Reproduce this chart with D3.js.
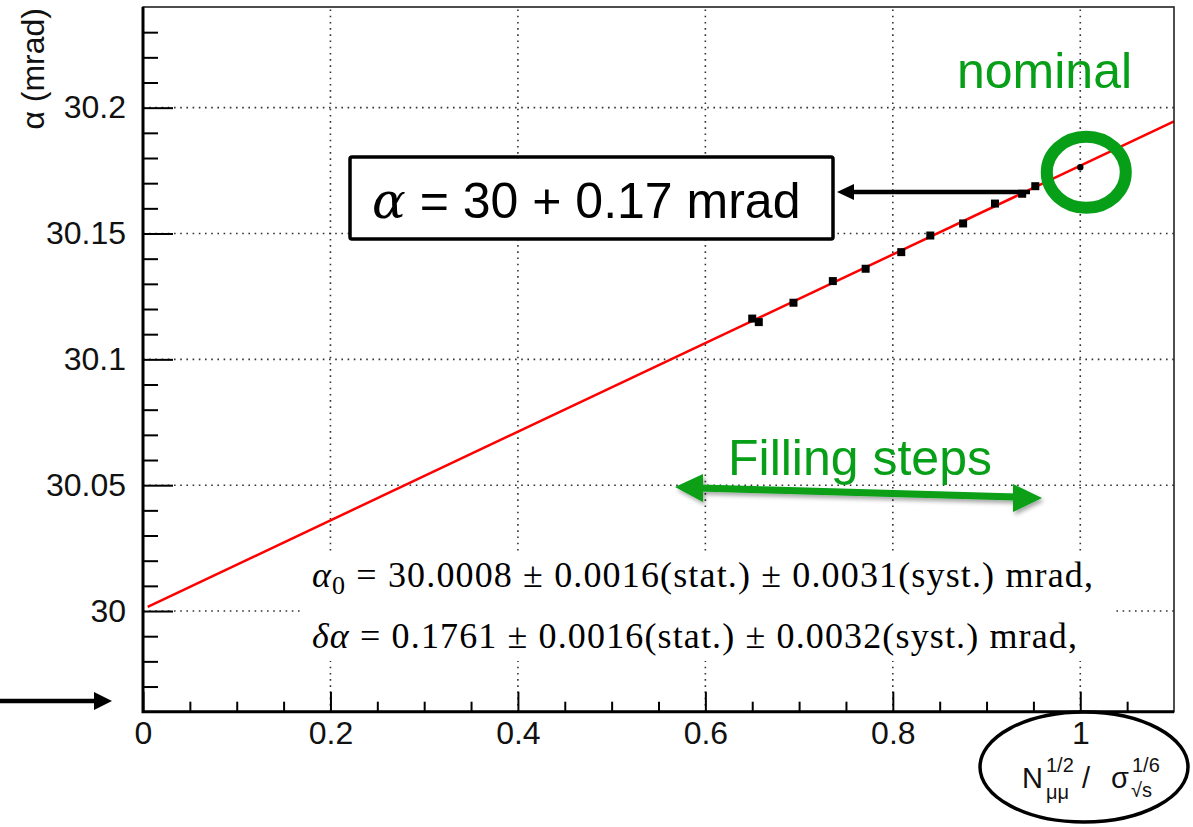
<!DOCTYPE html>
<html>
<head>
<meta charset="utf-8">
<script src="https://cdn.jsdelivr.net/npm/d3@7"></script>
<style>
  body { margin: 0; background: #fff; }
  svg { display: block; font-family: "Liberation Sans", Arial, sans-serif; }
</style>
</head>
<body>
<div id="chart"></div>
<script>
// Filling steps (x = N^1/2 / sigma^1/6, y = alpha in mrad)
const stepX = [0.650, 0.657, 0.694, 0.736, 0.771, 0.809, 0.840, 0.875, 0.909, 0.938, 0.952];
const stepY = [30.1162, 30.1148, 30.1225, 30.1311, 30.1360, 30.1426, 30.1492, 30.1540, 30.1619, 30.1658, 30.1688];
const stepErr = [0.0012, 0.0012, 0.0012, 0.0012, 0.0012, 0.0012, 0.0012, 0.0012, 0.0012, 0.0012, 0.0012];
const nominal = [1.0, 30.1763];

// Linear fit alpha = alpha0 + dAlpha * x
const alpha0 = 30.0008;
const dAlpha = 0.1761;
const fitRange = [0.005, 1.1];

// Axis ticks
const xMajor = [0, 0.2, 0.4, 0.6, 0.8, 1];
const xMinor = [0.05, 0.1, 0.15, 0.25, 0.3, 0.35, 0.45, 0.5, 0.55, 0.65, 0.7, 0.75, 0.85, 0.9, 0.95, 1.05];
const yMajor = [30, 30.05, 30.1, 30.15, 30.2];
const yMinor = [29.97, 29.98, 29.99, 30.01, 30.02, 30.03, 30.04, 30.06, 30.07, 30.08, 30.09,
                30.11, 30.12, 30.13, 30.14, 30.16, 30.17, 30.18, 30.19, 30.21, 30.22, 30.23];

const fitLines = [
    {sym: "α", sub: "0", rest: " = 30.0008 ± 0.0016(stat.) ± 0.0031(syst.) mrad,"},
    {sym: "δα", sub: "", rest: " = 0.1761 ± 0.0016(stat.) ± 0.0032(syst.) mrad,"}
];

const width = 1193, height = 827;
const green = "#079f17";

const svg = d3.select("#chart").append("svg")
    .attr("width", width)
    .attr("height", height);

const x = d3.scaleLinear().domain([0, 1.1]).range([143, 1174]);
const y = d3.scaleLinear().domain([29.96, 30.24]).range([711.7, 7]);

// drop shadow for the green arrow
const defs = svg.append("defs");
defs.append("filter").attr("id", "shadow")
    .attr("x", "-10%").attr("y", "-50%").attr("width", "120%").attr("height", "200%")
    .append("feDropShadow")
    .attr("dx", 2).attr("dy", 3).attr("stdDeviation", 2)
    .attr("flood-color", "#000").attr("flood-opacity", 0.35);

// Grid
const grid = svg.append("g")
    .style("stroke", "#333")
    .style("stroke-width", 1.6)
    .style("stroke-dasharray", "1.6,4.6");

grid.selectAll(".gx")
    .data(xMajor.filter(d => d > 0))
    .enter().append("line")
    .attr("x1", d => x(d)).attr("x2", d => x(d))
    .attr("y1", y.range()[0]).attr("y2", y.range()[1]);

grid.selectAll(".gy")
    .data(yMajor)
    .enter().append("line")
    .attr("x1", x.range()[0]).attr("x2", x.range()[1])
    .attr("y1", d => y(d)).attr("y2", d => y(d));

// Fit result box (white, hides the grid)
svg.append("rect")
    .attr("x", 300).attr("y", 553)
    .attr("width", 812).attr("height", 108)
    .style("fill", "#fff");

const fitText = svg.append("g")
    .style("font-family", "'Liberation Serif', 'DejaVu Serif', serif")
    .style("font-size", "36px");

fitLines.forEach((l, i) => {
    const t = fitText.append("text")
        .attr("x", 312)
        .attr("y", 587 + i * 61)
        .attr("textLength", i === 0 ? 781 : 765)
        .attr("lengthAdjust", "spacing");
    t.append("tspan").style("font-style", "italic").text(l.sym);
    if (l.sub) {
        t.append("tspan").attr("dy", 7).style("font-size", "26px").text(l.sub);
        t.append("tspan").attr("dy", -7).text(l.rest);
    } else {
        t.append("tspan").text(l.rest);
    }
});

// Fit line
svg.append("line")
    .attr("x1", x(fitRange[0])).attr("y1", y(alpha0 + dAlpha * fitRange[0]))
    .attr("x2", x(fitRange[1])).attr("y2", y(alpha0 + dAlpha * fitRange[1]))
    .style("stroke", "#ff0000")
    .style("stroke-width", 2.5);

// Points with error bars
const pts = stepX.map((v, i) => ({x: v, y: stepY[i], e: stepErr[i]}));

svg.append("g").selectAll("line")
    .data(pts)
    .enter().append("line")
    .attr("x1", d => x(d.x)).attr("x2", d => x(d.x))
    .attr("y1", d => y(d.y - d.e)).attr("y2", d => y(d.y + d.e))
    .style("stroke", "#000")
    .style("stroke-width", 2);

svg.append("g").selectAll("rect")
    .data(pts)
    .enter().append("rect")
    .attr("x", d => x(d.x) - 4)
    .attr("y", d => y(d.y) - 4)
    .attr("width", 8).attr("height", 8)
    .style("fill", "#000");

svg.append("circle")
    .attr("cx", x(nominal[0])).attr("cy", y(nominal[1]))
    .attr("r", 3.2)
    .style("fill", "#000");

// Axes (ROOT style: ticks inside the frame)
const fmt = v => String(+v.toFixed(2));

svg.append("g")
    .attr("transform", `translate(${x.range()[0]},0)`)
    .call(d3.axisLeft(y).tickValues(yMajor).tickFormat(fmt)
        .tickSizeInner(-30).tickSizeOuter(0).tickPadding(17));
svg.append("g")
    .attr("transform", `translate(${x.range()[0]},0)`)
    .call(d3.axisLeft(y).tickValues(yMinor).tickFormat("")
        .tickSizeInner(-15).tickSizeOuter(0));

svg.append("g")
    .attr("transform", `translate(0,${y.range()[0]})`)
    .call(d3.axisBottom(x).tickValues(xMajor).tickFormat(fmt)
        .tickSizeInner(-20).tickSizeOuter(0).tickPadding(10));
svg.append("g")
    .attr("transform", `translate(0,${y.range()[0]})`)
    .call(d3.axisBottom(x).tickValues(xMinor).tickFormat("")
        .tickSizeInner(-10).tickSizeOuter(0));

svg.selectAll(".domain").remove();
svg.selectAll(".tick line").style("stroke", "#000").style("stroke-width", 2);
svg.selectAll(".tick text")
    .style("font-family", "'Liberation Sans', Arial, sans-serif")
    .style("font-size", "32px")
    .style("fill", "#111");

// Frame
svg.append("rect")
    .attr("x", x.range()[0]).attr("y", y.range()[1])
    .attr("width", x.range()[1] - x.range()[0])
    .attr("height", y.range()[0] - y.range()[1])
    .style("fill", "none")
    .style("stroke", "#222")
    .style("stroke-width", 1.6);
svg.append("path")
    .attr("d", `M${x.range()[0]},${y.range()[1]}V${y.range()[0]}H${x.range()[1]}`)
    .style("fill", "none")
    .style("stroke", "#000")
    .style("stroke-width", 3);

// Axis titles
svg.append("text")
    .attr("transform", "translate(44,8) rotate(-90)")
    .attr("text-anchor", "end")
    .style("font-size", "32px")
    .style("fill", "#111")
    .text("α (mrad)");

const xt = svg.append("text")
    .style("font-size", "29px")
    .style("fill", "#111");
xt.append("tspan").attr("x", 1022).attr("y", 788).text("N");
xt.append("tspan").attr("x", 1046).attr("y", 772).style("font-size", "20px").text("1/2");
xt.append("tspan").attr("x", 1046).attr("y", 799).style("font-size", "20px").text("μμ");
xt.append("tspan").attr("x", 1082).attr("y", 788).text("/");
xt.append("tspan").attr("x", 1111).attr("y", 788).text("σ");
xt.append("tspan").attr("x", 1132).attr("y", 772).style("font-size", "20px").text("1/6");
xt.append("tspan").attr("x", 1131).attr("y", 797).style("font-size", "20px").text("√s");

// Black ellipse around x title
svg.append("ellipse")
    .attr("cx", 1084).attr("cy", 767)
    .attr("rx", 104).attr("ry", 55)
    .style("fill", "none")
    .style("stroke", "#000")
    .style("stroke-width", 3.5);

function arrow(x1, y1, x2, y2, w, headLen, headHalf, color, g) {
    const ang = Math.atan2(y2 - y1, x2 - x1);
    const bx = x2 - headLen * Math.cos(ang), by = y2 - headLen * Math.sin(ang);
    g.append("line")
        .attr("x1", x1).attr("y1", y1).attr("x2", bx).attr("y2", by)
        .style("stroke", color).style("stroke-width", w);
    const px = -Math.sin(ang) * headHalf, py = Math.cos(ang) * headHalf;
    g.append("path")
        .attr("d", `M${x2},${y2}L${bx + px},${by + py}L${bx - px},${by - py}Z`)
        .style("fill", color);
}

// Arrow at left edge pointing to the x axis
arrow(0, 701, 112, 701, 4.5, 18, 9, "#000", svg);

// Annotation box
svg.append("rect")
    .attr("x", 350).attr("y", 157)
    .attr("width", 483).attr("height", 82)
    .attr("rx", 2)
    .style("fill", "#fff")
    .style("stroke", "#000")
    .style("stroke-width", 3.5);

const boxText = svg.append("text")
    .attr("x", 372).attr("y", 218)
    .style("font-size", "50px");
boxText.append("tspan")
    .style("font-family", "'DejaVu Serif', serif")
    .style("font-style", "italic")
    .text("α");
boxText.append("tspan").text(" = 30 + 0.17 mrad");

arrow(1030, 192, 837, 192, 4.5, 17, 8, "#000", svg);

// Nominal marker
svg.append("ellipse")
    .attr("cx", x(nominal[0]) + 6).attr("cy", y(nominal[1]) + 5)
    .attr("rx", 39.5).attr("ry", 35.5)
    .style("fill", "none")
    .style("stroke", green)
    .style("stroke-width", 12);

svg.append("text")
    .attr("x", 957).attr("y", 88)
    .style("font-size", "50px")
    .style("fill", green)
    .text("nominal");

// Filling steps double arrow
svg.append("text")
    .attr("x", 728).attr("y", 475)
    .style("font-size", "50px")
    .style("fill", green)
    .text("Filling steps");

const ga = svg.append("g").attr("filter", "url(#shadow)");
ga.append("line")
    .attr("x1", 700).attr("y1", 488).attr("x2", 1016).attr("y2", 497)
    .style("stroke", green).style("stroke-width", 7);
ga.append("path").attr("d", "M675,487L703,474L703,502Z").style("fill", green);
ga.append("path").attr("d", "M1042,498L1013,484L1013,512Z").style("fill", green);
</script>
</body>
</html>
